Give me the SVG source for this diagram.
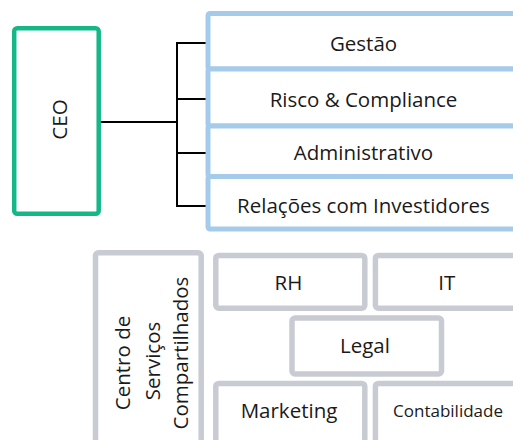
<svg xmlns="http://www.w3.org/2000/svg" width="513" height="440" viewBox="0 0 513 440">
<style>
text{font-family:"Open Sans","Noto Sans",sans-serif;font-size:20.5px;fill:#1a1a1a;text-anchor:middle}
.ceo{fill:#fff;stroke:#14B888;stroke-width:4.5}
.blue{fill:#fff;stroke:#A5CBEB;stroke-width:5}
.gray{fill:#fff;stroke:#C8CBD2;stroke-width:5.5}
.conn{fill:none;stroke:#000;stroke-width:2}
</style>
<rect width="513" height="440" fill="#fff"/>
<g id="connectors">
<path class="conn" d="M100 122H177M177 43V206M176 43H208M176 99H208M176 153H208M176 206H208"/>
</g>
<g id="ceo">
<rect class="ceo" x="14.2" y="28.2" width="84.5" height="185.6" rx="3"/>
<text transform="translate(66.5 119.5) rotate(-90)">CEO</text>
</g>
<g id="gestao">
<rect class="blue" x="208" y="13.5" width="330" height="55.5" rx="2"/>
<text x="363.5" y="50.7">Gestão</text>
</g>
<g id="risco">
<rect class="blue" x="208" y="69" width="330" height="57" rx="2"/>
<text x="363.5" y="107.3">Risco &amp; Compliance</text>
</g>
<g id="administrativo">
<rect class="blue" x="208" y="126" width="330" height="50.5" rx="2"/>
<text x="363.5" y="160">Administrativo</text>
</g>
<g id="relacoes">
<rect class="blue" x="208" y="176.5" width="330" height="52.5" rx="2"/>
<text x="363.5" y="213.3">Relações com Investidores</text>
</g>
<g id="csc">
<rect class="gray" x="95.5" y="252.8" width="105.7" height="210" rx="3"/>
<text transform="translate(130 363) rotate(-90)">Centro de</text>
<text transform="translate(159.5 361) rotate(-90)">Serviços</text>
<text transform="translate(188 353) rotate(-90)">Compartilhados</text>
</g>
<g id="rh">
<rect class="gray" x="215.8" y="255.4" width="149" height="52.8" rx="3"/>
<text x="288.5" y="290">RH</text>
</g>
<g id="it">
<rect class="gray" x="375.4" y="255.4" width="160" height="52.8" rx="3"/>
<text x="446.7" y="290">IT</text>
</g>
<g id="legal">
<rect class="gray" x="292" y="318" width="149.5" height="56" rx="3"/>
<text x="365" y="353">Legal</text>
</g>
<g id="marketing">
<rect class="gray" x="215.8" y="383.4" width="149" height="80" rx="3"/>
<text x="289" y="418">Marketing</text>
</g>
<g id="contabilidade">
<rect class="gray" x="375.4" y="383.4" width="160" height="80" rx="3"/>
<text x="448" y="416.7" style="font-size:17px">Contabilidade</text>
</g>
</svg>
